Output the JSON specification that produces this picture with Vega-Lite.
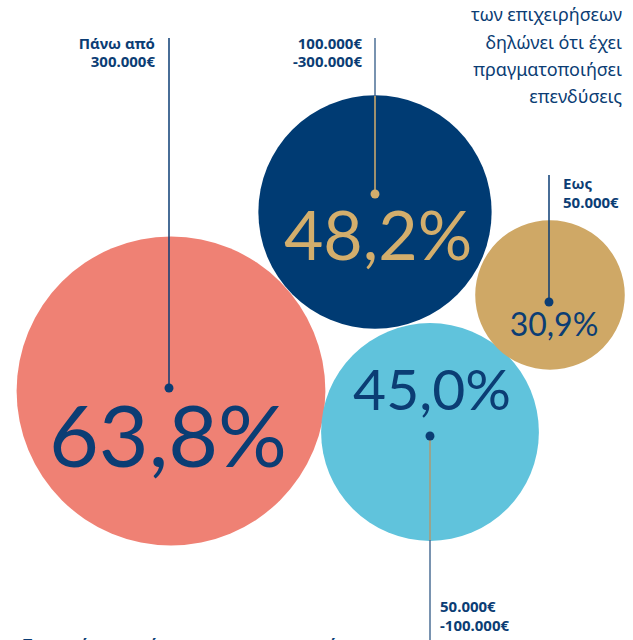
{
  "$schema": "https://vega.github.io/schema/vega-lite/v6.json",
  "width": 633,
  "height": 640,
  "padding": 0,
  "autosize": {"type": "none"},
  "background": "white",
  "config": {"view": {"stroke": null}, "axis": {"disable": true}},
  "resolve": {"scale": {"color": "independent", "size": "independent", "fill": "independent", "stroke": "independent"}},
  "datasets": {
    "bubbles": [
      {"band": "Πάνω από 300.000€", "value": 63.8, "label": "63,8%", "cx": 171, "cy": 391, "dx": 169, "dy": 388, "tx": 168, "ty": 441, "lx": 155, "ly": 49, "lab": ["Πάνω από", "300.000€"]},
      {"band": "100.000€-300.000€", "value": 48.2, "label": "48,2%", "cx": 375, "cy": 212, "dx": 375, "dy": 194, "tx": 378, "ty": 240, "lx": 362, "ly": 49, "lab": ["100.000€", "-300.000€"]},
      {"band": "50.000€-100.000€", "value": 45.0, "label": "45,0%", "cx": 430, "cy": 432, "dx": 430, "dy": 436, "tx": 432, "ty": 393, "lx": 440, "ly": 612, "lab": ["50.000€", "-100.000€"]},
      {"band": "Εως 50.000€", "value": 30.9, "label": "30,9%", "cx": 550, "cy": 295, "dx": 549, "dy": 302, "tx": 554, "ty": 326, "lx": 563, "ly": 189, "lab": ["Εως", "50.000€"]}
    ],
    "lines": [
      {"x": 169, "y1": 38, "y2": 388, "seg": "navy"},
      {"x": 375, "y1": 38, "y2": 96, "seg": "grey"},
      {"x": 375, "y1": 96, "y2": 194, "seg": "gold"},
      {"x": 549, "y1": 175, "y2": 302, "seg": "navy"},
      {"x": 430, "y1": 436, "y2": 540, "seg": "tan"},
      {"x": 430, "y1": 540, "y2": 640, "seg": "grey"}
    ],
    "notes": [
      {"x": 622, "y": 21, "t": "των επιχειρήσεων", "w": "normal"},
      {"x": 622, "y": 49, "t": "δηλώνει ότι έχει", "w": "normal"},
      {"x": 622, "y": 76, "t": "πραγματοποιήσει", "w": "bold"},
      {"x": 622, "y": 103, "t": "επενδύσεις", "w": "normal"}
    ]
  },
  "layer": [
    {
      "data": {"name": "bubbles"},
      "mark": {"type": "circle", "opacity": 1},
      "encoding": {
        "x": {"field": "cx", "type": "quantitative", "scale": {"domain": [0, 633], "nice": false, "zero": false}},
        "y": {"field": "cy", "type": "quantitative", "scale": {"domain": [0, 640], "nice": false, "zero": false, "reverse": true}},
        "size": {"field": "value", "type": "quantitative", "scale": {"type": "pow", "exponent": 2, "domain": [0, 100], "range": [0, 234256]}, "legend": null},
        "color": {"field": "band", "type": "nominal", "scale": {"domain": ["Πάνω από 300.000€", "100.000€-300.000€", "50.000€-100.000€", "Εως 50.000€"], "range": ["#EF8174", "#003B73", "#60C3DC", "#CFA866"]}, "legend": null}
      }
    },
    {
      "data": {"name": "lines"},
      "mark": {"type": "rule", "strokeWidth": 1.5},
      "encoding": {
        "x": {"field": "x", "type": "quantitative"},
        "y": {"field": "y1", "type": "quantitative"},
        "y2": {"field": "y2"},
        "stroke": {"field": "seg", "type": "nominal", "scale": {"domain": ["navy", "grey", "gold", "tan"], "range": ["#0B3D74", "#4D6F96", "#D3AE6C", "#AE9A73"]}, "legend": null}
      }
    },
    {
      "data": {"name": "bubbles"},
      "mark": {"type": "point", "filled": true, "opacity": 1, "size": 80},
      "encoding": {
        "x": {"field": "dx", "type": "quantitative"},
        "y": {"field": "dy", "type": "quantitative"},
        "fill": {"field": "band", "type": "nominal", "scale": {"domain": ["Πάνω από 300.000€", "100.000€-300.000€", "50.000€-100.000€", "Εως 50.000€"], "range": ["#0B3D74", "#D3AE6C", "#0B3D74", "#0B3D74"]}, "legend": null}
      }
    },
    {
      "data": {"name": "bubbles"},
      "transform": [{"filter": "datum.value == 63.8"}],
      "mark": {"type": "text", "align": "center", "baseline": "middle", "font": "Lato", "fontWeight": "normal", "fontSize": 86, "color": "#0B3D74"},
      "encoding": {
        "x": {"field": "tx", "type": "quantitative"},
        "y": {"field": "ty", "type": "quantitative"},
        "text": {"field": "label"}
      }
    },
    {
      "data": {"name": "bubbles"},
      "transform": [{"filter": "datum.value == 48.2"}],
      "mark": {"type": "text", "align": "center", "baseline": "middle", "font": "Lato", "fontWeight": "normal", "fontSize": 68, "color": "#D3AE6C"},
      "encoding": {
        "x": {"field": "tx", "type": "quantitative"},
        "y": {"field": "ty", "type": "quantitative"},
        "text": {"field": "label"}
      }
    },
    {
      "data": {"name": "bubbles"},
      "transform": [{"filter": "datum.value == 45.0"}],
      "mark": {"type": "text", "align": "center", "baseline": "middle", "font": "Lato", "fontWeight": "normal", "fontSize": 57, "color": "#0B3D74"},
      "encoding": {
        "x": {"field": "tx", "type": "quantitative"},
        "y": {"field": "ty", "type": "quantitative"},
        "text": {"field": "label"}
      }
    },
    {
      "data": {"name": "bubbles"},
      "transform": [{"filter": "datum.value == 30.9"}],
      "mark": {"type": "text", "align": "center", "baseline": "middle", "font": "Lato", "fontWeight": "normal", "fontSize": 32, "color": "#0B3D74"},
      "encoding": {
        "x": {"field": "tx", "type": "quantitative"},
        "y": {"field": "ty", "type": "quantitative"},
        "text": {"field": "label"}
      }
    },
    {
      "data": {"name": "bubbles"},
      "transform": [{"filter": "datum.lx < 400"}],
      "mark": {"type": "text", "align": "right", "baseline": "alphabetic", "font": "Noto Sans", "fontWeight": "bold", "fontSize": 15, "lineHeight": 18, "color": "#0B3D74"},
      "encoding": {
        "x": {"field": "lx", "type": "quantitative"},
        "y": {"field": "ly", "type": "quantitative"},
        "text": {"field": "lab"}
      }
    },
    {
      "data": {"name": "bubbles"},
      "transform": [{"filter": "datum.lx >= 400"}],
      "mark": {"type": "text", "align": "left", "baseline": "alphabetic", "font": "Noto Sans", "fontWeight": "bold", "fontSize": 15, "lineHeight": 19, "color": "#0B3D74"},
      "encoding": {
        "x": {"field": "lx", "type": "quantitative"},
        "y": {"field": "ly", "type": "quantitative"},
        "text": {"field": "lab"}
      }
    },
    {
      "data": {"name": "notes"},
      "mark": {"type": "text", "align": "right", "baseline": "alphabetic", "font": "Noto Sans", "fontSize": 18, "letterSpacing": 0.8, "color": "#0B3D74"},
      "encoding": {
        "x": {"field": "x", "type": "quantitative"},
        "y": {"field": "y", "type": "quantitative"},
        "text": {"field": "t"},
        "fontWeight": {"field": "w", "type": "nominal", "scale": {"domain": ["normal", "bold"], "range": ["normal", "bold"]}, "legend": null}
      }
    },
    {
      "data": {"values": [{"x": 22, "y": 649, "t": "Ποσοστό επιχειρήσεων που πραγματοποίησε"}]},
      "mark": {"type": "text", "align": "left", "baseline": "alphabetic", "font": "Noto Sans", "fontWeight": "bold", "fontSize": 15, "color": "#0B3D74", "clip": false},
      "encoding": {
        "x": {"field": "x", "type": "quantitative"},
        "y": {"field": "y", "type": "quantitative"},
        "text": {"field": "t"}
      }
    }
  ]
}
